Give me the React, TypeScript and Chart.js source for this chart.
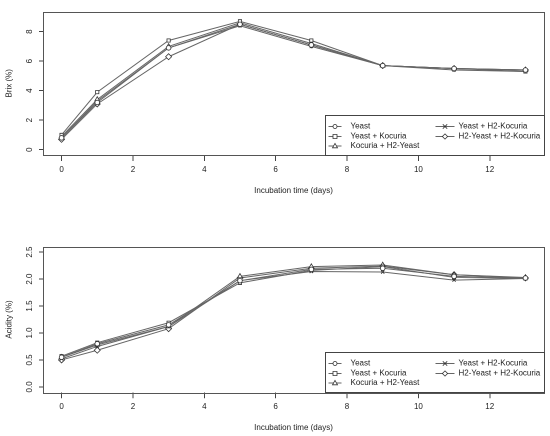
import React, { useEffect, useRef } from "react";
import { Chart, registerables } from "chart.js";

Chart.register(...registerables);

const DAYS = [0, 1, 3, 5, 7, 9, 11, 13];
const X_TICKS = [0, 2, 4, 6, 8, 10, 12];
const SERIES_NAMES = [
  "Yeast",
  "Yeast + Kocuria",
  "Kocuria + H2-Yeast",
  "Yeast + H2-Kocuria",
  "H2-Yeast + H2-Kocuria",
];
const POINT_STYLES = ["circle", "rect", "triangle", "crossRot", "rectRot"];

const BRIX_YEAST = [0.8, 3.2, 6.9, 8.5, 7.1, 5.7, 5.5, 5.4];
const BRIX_YEAST_KOCURIA = [1.0, 3.9, 7.4, 8.7, 7.4, 5.7, 5.5, 5.3];
const BRIX_KOCURIA_H2YEAST = [0.9, 3.4, 7.0, 8.6, 7.2, 5.7, 5.5, 5.4];
const BRIX_YEAST_H2KOCURIA = [0.8, 3.3, 6.9, 8.4, 7.0, 5.7, 5.4, 5.3];
const BRIX_H2YEAST_H2KOCURIA = [0.7, 3.1, 6.3, 8.5, 7.1, 5.7, 5.5, 5.4];
const BRIX_TICKS = [0, 2, 4, 6, 8];

const ACID_YEAST = [0.55, 0.8, 1.15, 1.97, 2.18, 2.2, 2.05, 2.02];
const ACID_YEAST_KOCURIA = [0.57, 0.82, 1.19, 1.93, 2.16, 2.23, 2.03, 2.01];
const ACID_KOCURIA_H2YEAST = [0.55, 0.78, 1.12, 2.05, 2.23, 2.26, 2.08, 2.03];
const ACID_YEAST_H2KOCURIA = [0.52, 0.75, 1.12, 1.97, 2.14, 2.13, 1.98, 2.01];
const ACID_H2YEAST_H2KOCURIA = [0.5, 0.68, 1.08, 2.02, 2.2, 2.24, 2.08, 2.02];
const ACID_TICKS = [0, 0.5, 1.0, 1.5, 2.0, 2.5];

const FONT = "'Liberation Sans', Arial, sans-serif";
const TEXT = "#222";
const LINE = "#666";
const MARK = "#333";

function drawMarker(ctx: CanvasRenderingContext2D, style: string, x: number, y: number) {
  ctx.save();
  ctx.strokeStyle = MARK;
  ctx.fillStyle = "#fff";
  ctx.lineWidth = 0.8;
  ctx.beginPath();
  if (style === "circle") {
    ctx.arc(x, y, 2, 0, Math.PI * 2);
    ctx.fill();
    ctx.stroke();
  } else if (style === "rect") {
    ctx.rect(x - 2, y - 2, 4, 4);
    ctx.fill();
    ctx.stroke();
  } else if (style === "triangle") {
    ctx.moveTo(x, y - 2.6);
    ctx.lineTo(x + 2.5, y + 1.8);
    ctx.lineTo(x - 2.5, y + 1.8);
    ctx.closePath();
    ctx.fill();
    ctx.stroke();
  } else if (style === "crossRot") {
    ctx.moveTo(x - 2.2, y - 2.2);
    ctx.lineTo(x + 2.2, y + 2.2);
    ctx.moveTo(x + 2.2, y - 2.2);
    ctx.lineTo(x - 2.2, y + 2.2);
    ctx.stroke();
  } else {
    ctx.moveTo(x, y - 2.6);
    ctx.lineTo(x + 2.6, y);
    ctx.lineTo(x, y + 2.6);
    ctx.lineTo(x - 2.6, y);
    ctx.closePath();
    ctx.fill();
    ctx.stroke();
  }
  ctx.restore();
}

const boxAndLegend = {
  id: "boxAndLegend",
  afterDraw(chart: any) {
    const { ctx, chartArea: ca } = chart;
    ctx.save();
    ctx.strokeStyle = "#555";
    ctx.lineWidth = 1;
    ctx.strokeRect(Math.round(ca.left) + 0.5, Math.round(ca.top) + 0.5, Math.round(ca.right - ca.left), Math.round(ca.bottom - ca.top));
    // legend
    const w = 219;
    const h = 40;
    const lx = Math.round(ca.right - w) + 0.5;
    const ly = Math.round(ca.bottom - h) + 0.5;
    ctx.fillStyle = "#fff";
    ctx.fillRect(lx, ly, w, h);
    ctx.strokeStyle = "#444";
    ctx.strokeRect(lx, ly, w, h);
    ctx.font = `8px ${FONT}`;
    ctx.textBaseline = "middle";
    ctx.textAlign = "left";
    const rows = [11, 21, 30.5];
    const cols = [
      { l0: 3, l1: 16, m: 9.5, t: 25 },
      { l0: 110, l1: 129, m: 119.5, t: 133 },
    ];
    chart.data.datasets.forEach((ds: any, i: number) => {
      const col = cols[i < 3 ? 0 : 1];
      const row = rows[i < 3 ? i : i - 3];
      const yy = ly + row;
      ctx.strokeStyle = LINE;
      ctx.lineWidth = 1;
      ctx.beginPath();
      ctx.moveTo(lx + col.l0, yy);
      ctx.lineTo(lx + col.l1, yy);
      ctx.stroke();
      drawMarker(ctx, ds.pointStyle, lx + col.m, yy);
      ctx.fillStyle = TEXT;
      ctx.fillText(ds.label, lx + col.t, yy);
    });
    ctx.restore();
  },
};

type PanelProps = {
  series: number[][];
  yMin: number;
  yMax: number;
  yTicks: number[];
  yTitle: string;
  decimals: number;
  padTop: number;
  padBottom: number;
  xHeight: number;
  yLabelPad: number;
  xLabelPad: number;
};

function Panel(props: PanelProps) {
  const ref = useRef<HTMLCanvasElement | null>(null);
  useEffect(() => {
    if (!ref.current) return;
    const datasets = props.series.map((vals, i) => ({
      label: SERIES_NAMES[i],
      data: DAYS.map((d, j) => ({ x: d, y: vals[j] })),
      borderColor: LINE,
      borderWidth: 1,
      pointStyle: POINT_STYLES[i],
      pointRadius: POINT_STYLES[i] === "rectRot" ? 3 : POINT_STYLES[i] === "triangle" ? 2.8 : 2.3,
      pointBorderColor: MARK,
      pointBackgroundColor: "#fff",
      pointBorderWidth: 0.8,
      fill: false,
      tension: 0,
    }));
    const chart = new Chart(ref.current, {
      type: "line",
      data: { datasets },
      plugins: [boxAndLegend],
      options: {
        animation: false,
        responsive: false,
        devicePixelRatio: 2,
        layout: { padding: { left: 0, right: 6, top: props.padTop, bottom: props.padBottom } },
        plugins: { legend: { display: false }, tooltip: { enabled: false } },
        scales: {
          x: {
            type: "linear",
            min: -0.52,
            max: 13.52,
            afterBuildTicks: (s: any) => {
              s.ticks = X_TICKS.map((v) => ({ value: v }));
            },
            afterFit: (s: any) => {
              s.height = props.xHeight;
            },
            grid: { display: true, drawOnChartArea: false, drawTicks: true, tickLength: 6, color: "#444" },
            border: { display: false },
            ticks: {
              color: TEXT,
              font: { family: FONT, size: 8 },
              padding: props.xLabelPad,
              maxRotation: 0,
              autoSkip: false,
              callback: (v: any) => String(v),
            },
            title: {
              display: true,
              text: "Incubation time (days)",
              color: TEXT,
              font: { family: FONT, size: 8 },
              padding: { top: 0, bottom: 0 },
            },
          },
          y: {
            type: "linear",
            min: props.yMin,
            max: props.yMax,
            afterBuildTicks: (s: any) => {
              s.ticks = props.yTicks.map((v) => ({ value: v }));
            },
            afterFit: (s: any) => {
              s.width = 43;
            },
            grid: { display: true, drawOnChartArea: false, drawTicks: true, tickLength: 4, color: "#444" },
            border: { display: false },
            ticks: {
              color: TEXT,
              font: { family: FONT, size: 8 },
              padding: props.yLabelPad,
              minRotation: 90,
              maxRotation: 90,
              crossAlign: "center",
              autoSkip: false,
              callback: (v: any) => Number(v).toFixed(props.decimals),
            },
            title: {
              display: true,
              text: props.yTitle,
              color: TEXT,
              font: { family: FONT, size: 8 },
              padding: { top: 4.5, bottom: 0 },
            },
          },
        },
      } as any,
    });
    return () => chart.destroy();
  }, []);
  return <canvas ref={ref} width={550} height={218} style={{ display: "block", width: 550, height: 218 }} />;
}

export default function App() {
  return (
    <div style={{ position: "absolute", left: 0, top: 0, width: 550, height: 436, background: "#fff" }}>
      <Panel
        series={[BRIX_YEAST, BRIX_YEAST_KOCURIA, BRIX_KOCURIA_H2YEAST, BRIX_YEAST_H2KOCURIA, BRIX_H2YEAST_H2KOCURIA]}
        yMin={-0.36}
        yMax={9.36}
        yTicks={BRIX_TICKS}
        yTitle="Brix (%)"
        decimals={0}
        padTop={9.3}
        padBottom={22.2}
        xHeight={40.8}
        yLabelPad={6.8}
        xLabelPad={4.2}
      />
      <Panel
        series={[ACID_YEAST, ACID_YEAST_KOCURIA, ACID_KOCURIA_H2YEAST, ACID_YEAST_H2KOCURIA, ACID_H2YEAST_H2KOCURIA]}
        yMin={-0.1}
        yMax={2.6}
        yTicks={ACID_TICKS}
        yTitle="Acidity (%)"
        decimals={1}
        padTop={28.7}
        padBottom={3.2}
        xHeight={40.5}
        yLabelPad={3.4}
        xLabelPad={3.9}
      />
    </div>
  );
}
